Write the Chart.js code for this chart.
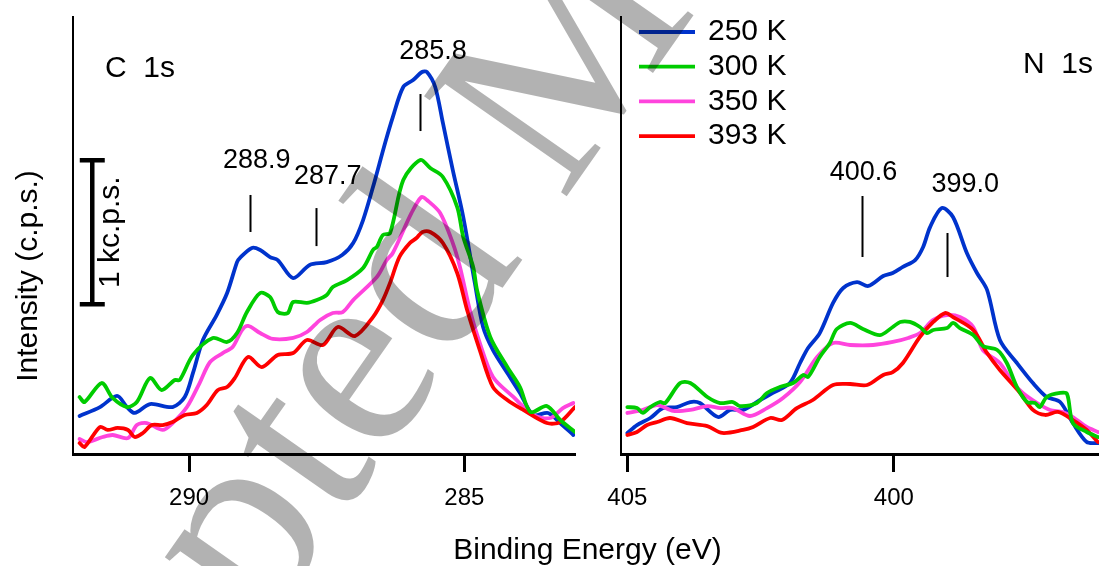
<!DOCTYPE html>
<html><head><meta charset="utf-8">
<script src="https://cdn.jsdelivr.net/npm/chart.js@4.4.1/dist/chart.umd.min.js"></script>
<style>
html,body{margin:0;padding:0;background:#fff;width:1099px;height:566px;overflow:hidden}
#wrap{position:relative;width:1099px;height:566px}
canvas{position:absolute;left:0;top:0}
</style></head><body>
<div id="wrap"><canvas id="c1" width="1099" height="566"></canvas><canvas id="c2" width="1099" height="566"></canvas></div>
<script>
// ---- Series labels ----
const seriesLabels = ['250 K', '300 K', '350 K', '393 K'];

// ---- C 1s (binding energy eV, intensity kc.p.s. above baseline) ----
const cE250 = [291.99,291.62,291.31,291.13,290.99,290.71,290.30,290.08,289.93,289.75,289.50,289.31,289.13,289.08,288.86,288.71,288.53,288.39,288.11,287.81,287.50,287.22,287.02,286.84,286.66,286.44,286.30,286.11,285.93,285.77,285.68,285.53,285.39,285.21,285.02,284.81,284.66,284.48,284.22,283.99,283.75,283.48,283.26,283.02];
const cI250 = [0.264,0.326,0.403,0.326,0.285,0.347,0.326,0.396,0.563,0.792,0.965,1.118,1.333,1.361,1.431,1.417,1.368,1.347,1.222,1.313,1.333,1.382,1.465,1.625,1.854,2.160,2.340,2.549,2.597,2.653,2.653,2.549,2.299,1.972,1.646,1.188,0.882,0.722,0.563,0.424,0.271,0.285,0.215,0.132];
const cE300 = [291.99,291.90,291.59,291.39,291.13,290.95,290.71,290.50,290.26,290.17,289.93,289.57,289.31,289.13,288.95,288.71,288.53,288.39,288.21,288.11,287.86,287.68,287.50,287.39,287.13,286.84,286.66,286.59,286.48,286.35,286.11,285.80,285.62,285.39,285.13,285.02,284.84,284.77,284.53,284.22,283.99,283.80,283.50,283.26,282.99];
const cI300 = [0.396,0.361,0.493,0.389,0.326,0.361,0.528,0.444,0.514,0.514,0.688,0.806,0.778,0.840,0.986,1.118,1.090,0.986,0.979,1.056,1.049,1.069,1.104,1.160,1.208,1.292,1.417,1.438,1.521,1.535,1.903,2.042,1.986,1.924,1.715,1.507,1.299,1.139,0.813,0.604,0.465,0.292,0.333,0.236,0.153];
const cE350 = [291.99,291.86,291.57,291.39,291.11,290.95,290.77,290.48,290.30,290.04,289.81,289.62,289.39,289.21,289.04,288.93,288.71,288.48,288.11,287.86,287.62,287.39,287.21,287.02,286.59,286.41,286.30,285.96,285.78,285.68,285.44,285.21,285.08,284.90,284.72,284.48,284.11,283.75,283.44,283.21,283.02];
const cI350 = [0.104,0.083,0.118,0.132,0.111,0.201,0.215,0.167,0.215,0.326,0.493,0.639,0.701,0.743,0.861,0.889,0.840,0.799,0.806,0.847,0.931,0.979,0.986,1.069,1.229,1.347,1.396,1.674,1.785,1.764,1.674,1.465,1.299,1.000,0.771,0.535,0.396,0.271,0.250,0.319,0.354];
const cE393 = [291.99,291.90,291.62,291.48,291.30,291.11,290.99,290.84,290.68,290.48,290.30,290.08,289.86,289.68,289.48,289.31,289.17,288.93,288.68,288.39,288.11,287.86,287.57,287.30,286.99,286.66,286.48,286.35,286.18,285.99,285.87,285.76,285.62,285.39,285.13,284.95,284.72,284.48,284.22,283.93,283.50,283.26,282.99];
const cI393 = [0.076,0.049,0.188,0.167,0.181,0.167,0.118,0.146,0.201,0.201,0.222,0.271,0.285,0.340,0.444,0.465,0.528,0.674,0.604,0.688,0.701,0.792,0.757,0.882,0.819,0.951,1.069,1.188,1.368,1.465,1.500,1.542,1.542,1.465,1.257,1.000,0.722,0.465,0.375,0.306,0.215,0.222,0.326];

// ---- N 1s ----
const nE250 = [405.00,404.82,404.57,404.33,404.07,403.82,403.64,403.30,403.07,402.83,402.51,402.27,401.95,401.76,401.61,401.39,401.14,400.95,400.69,400.48,400.20,400.02,399.83,399.60,399.45,399.32,399.10,398.89,398.63,398.44,398.25,398.01,397.69,397.39,397.13,396.88,396.64,396.38,396.17];
const nI250 = [0.146,0.201,0.250,0.319,0.326,0.361,0.354,0.257,0.306,0.306,0.375,0.424,0.493,0.632,0.736,0.840,1.049,1.153,1.194,1.167,1.236,1.257,1.299,1.347,1.438,1.576,1.708,1.646,1.396,1.257,1.139,0.792,0.632,0.493,0.396,0.361,0.215,0.083,0.076];
const nE300 = [405.00,404.82,404.71,404.57,404.39,404.29,404.01,403.82,403.50,403.26,403.02,402.89,402.57,402.38,402.14,401.89,401.70,401.61,401.39,401.20,401.07,400.82,400.58,400.26,400.02,399.88,399.70,399.51,399.38,399.26,399.00,398.89,398.76,398.51,398.33,398.06,397.88,397.69,397.50,397.35,397.26,397.13,396.88,396.75,396.64,396.38,396.17];
const nI300 = [0.326,0.319,0.285,0.326,0.361,0.354,0.493,0.493,0.396,0.354,0.361,0.333,0.354,0.424,0.465,0.493,0.549,0.535,0.674,0.771,0.868,0.910,0.868,0.826,0.882,0.917,0.917,0.882,0.840,0.861,0.875,0.910,0.875,0.826,0.750,0.722,0.632,0.465,0.361,0.354,0.326,0.396,0.424,0.417,0.215,0.153,0.118];
const nE350 = [405.00,404.71,404.44,404.14,403.82,403.50,403.26,403.02,402.70,402.38,402.08,401.76,401.44,401.14,400.82,400.39,400.02,399.73,399.51,399.26,399.00,398.76,398.51,398.33,398.01,397.76,397.58,397.31,397.07,396.83,396.64,396.38,396.17];
const nI350 = [0.285,0.306,0.340,0.299,0.306,0.333,0.319,0.319,0.264,0.319,0.389,0.500,0.674,0.771,0.757,0.757,0.778,0.806,0.840,0.931,0.965,0.951,0.882,0.722,0.632,0.493,0.424,0.354,0.306,0.292,0.257,0.188,0.153];
const nE393 = [405.00,404.82,404.63,404.44,404.20,403.88,403.50,403.22,402.83,402.64,402.32,402.10,401.82,401.52,401.14,400.82,400.50,400.20,400.02,399.83,399.51,399.26,399.04,398.89,398.51,398.25,398.01,397.63,397.39,397.16,396.92,396.64,396.38,396.17];
const nI393 = [0.132,0.153,0.201,0.222,0.250,0.215,0.194,0.146,0.167,0.188,0.250,0.236,0.319,0.375,0.479,0.486,0.479,0.549,0.569,0.632,0.813,0.917,0.979,0.951,0.861,0.701,0.583,0.424,0.306,0.271,0.292,0.236,0.167,0.083];

// ---- tick labels ----
const cTicks = [290, 285];
const nTicks = [405, 400];

// ---- peak annotations ----
const cPeakLabels = ['288.9', '287.7', '285.8'];
const nPeakLabels = ['400.6', '399.0'];

// ---------------- drawing config ----------------
const FONT = '"Liberation Sans", Arial, Helvetica, sans-serif';
const colors = ['#0033cc', '#00cc00', '#ff44dd', '#ff0000'];
const drawOrder = [3, 0, 2, 1]; // lower = on top

function mk(E, I, k) {
  return {
    label: seriesLabels[k],
    data: E.map((e, i) => ({ x: e, y: I[i] })),
    borderColor: colors[k], backgroundColor: colors[k],
    borderWidth: 3.8, pointRadius: 0, tension: 0.3, fill: false,
    borderJoinStyle: 'round', borderCapStyle: 'round', order: drawOrder[k]
  };
}

// annotation geometry (data units: eV, kc.p.s.)
const cMarks = [
  { e: 288.9, y0: 1.542, y1: 1.799, le: 288.77, ly: 1.986 },
  { e: 287.7, y0: 1.444, y1: 1.708, le: 287.48, ly: 1.875 },
  { e: 285.8, y0: 2.243, y1: 2.500, le: 285.57, ly: 2.743 }
];
const nMarks = [
  { e: 400.6, y0: 1.368, y1: 1.792, le: 400.57, ly: 1.903 },
  { e: 399.0, y0: 1.229, y1: 1.535, le: 398.66, ly: 1.819 }
];

function drawMarks(chart, marks, labels) {
  const { ctx, scales: { x, y } } = chart;
  ctx.save();
  ctx.strokeStyle = '#000'; ctx.fillStyle = '#000'; ctx.lineWidth = 2;
  ctx.font = '27px ' + FONT; ctx.textAlign = 'center'; ctx.textBaseline = 'alphabetic';
  marks.forEach((m, i) => {
    const px = Math.round(x.getPixelForValue(m.e)) + 0.5;
    ctx.beginPath(); ctx.moveTo(px, y.getPixelForValue(m.y0)); ctx.lineTo(px, y.getPixelForValue(m.y1)); ctx.stroke();
    ctx.fillText(labels[i], x.getPixelForValue(m.le), y.getPixelForValue(m.ly));
  });
  ctx.restore();
}

const leftDecor = {
  id: 'leftDecor',
  afterDraw(chart) {
    const { ctx, chartArea, scales: { x, y } } = chart;
    ctx.save();
    ctx.fillStyle = '#000'; ctx.strokeStyle = '#000';
    ctx.font = '30px ' + FONT; ctx.textBaseline = 'alphabetic';
    // y title
    ctx.save(); ctx.translate(36.5, 276); ctx.rotate(-Math.PI / 2);
    ctx.textAlign = 'center'; ctx.fillText('Intensity (c.p.s.)', 0, 0); ctx.restore();
    // x title
    ctx.textAlign = 'center'; ctx.fillText('Binding Energy (eV)', 587.5, 559);
    // panel label
    ctx.textAlign = 'left'; ctx.fillText('C  1s', chartArea.left + 32, chartArea.top + 60);
    // scale bar 1 kc.p.s.
    const bx = x.getPixelForValue(291.76);
    const yb = y.getPixelForValue(1.04), yt = y.getPixelForValue(2.04);
    ctx.lineWidth = 4.5; ctx.lineCap = 'butt';
    ctx.beginPath(); ctx.moveTo(bx, yb); ctx.lineTo(bx, yt); ctx.stroke();
    ctx.beginPath(); ctx.moveTo(bx - 12.5, yt); ctx.lineTo(bx + 12.5, yt); ctx.stroke();
    ctx.beginPath(); ctx.moveTo(bx - 12.5, yb); ctx.lineTo(bx + 12.5, yb); ctx.stroke();
    ctx.save(); ctx.translate(bx + 26.5, (yb + yt) / 2); ctx.rotate(-Math.PI / 2);
    ctx.textAlign = 'center'; ctx.fillText('1 kc.p.s.', 0, 0); ctx.restore();
    ctx.restore();
    drawMarks(chart, cMarks, cPeakLabels);
  }
};

const rightDecor = {
  id: 'rightDecor',
  afterDraw(chart) {
    const { ctx, chartArea } = chart;
    drawMarks(chart, nMarks, nPeakLabels);
    ctx.save();
    ctx.fillStyle = '#000';
    ctx.font = '30px ' + FONT; ctx.textBaseline = 'alphabetic'; ctx.textAlign = 'left';
    ctx.fillText('N  1s', chartArea.left + 402, chartArea.top + 56);
    // legend
    const lx0 = chartArea.left + 18, lx1 = chartArea.left + 74, tx = chartArea.left + 87;
    seriesLabels.forEach((lab, k) => {
      const ly = chartArea.top + 15 + k * 34.7;
      ctx.strokeStyle = colors[k]; ctx.lineWidth = 3.8;
      ctx.beginPath(); ctx.moveTo(lx0, ly); ctx.lineTo(lx1, ly); ctx.stroke();
      ctx.textBaseline = 'middle'; ctx.fillText(lab, tx, ly);
    });
    ctx.restore();
    // watermark overlay
    ctx.save();
    const fs = 266;
    ctx.font = fs + 'px "Liberation Serif", "Times New Roman", serif';
    const wPre = ctx.measureText('Accept').width, wE = ctx.measureText('e').width;
    ctx.translate(365, 380); ctx.rotate(-55 * Math.PI / 180);
    ctx.fillStyle = 'rgba(0,0,0,0.3)'; ctx.textAlign = 'left'; ctx.textBaseline = 'alphabetic';
    ctx.fillText('Accepted Manuscript', -(wPre + wE / 2), 0.225 * fs);
    ctx.restore();
  }
};

function baseOptions(xmin, xmax, ticks, pad, yWidth) {
  return {
    responsive: false, animation: false, devicePixelRatio: 1, events: [],
    layout: { padding: pad },
    plugins: { legend: { display: false }, tooltip: { enabled: false } },
    scales: {
      x: {
        type: 'linear', reverse: true, min: xmin, max: xmax,
        afterBuildTicks: (s) => { s.ticks = ticks.map(v => ({ value: v })); },
        afterFit: (s) => { s.height = 112; },
        ticks: { color: '#000', font: { family: FONT, size: 24 }, padding: 12, maxRotation: 0, autoSkip: false },
        grid: { display: true, drawOnChartArea: false, drawTicks: true, tickLength: 18, tickWidth: 3, tickColor: '#000', color: '#000' },
        border: { display: true, color: '#000', width: 3 }
      },
      y: {
        min: 0, max: 3.035,
        afterFit: (s) => { s.width = yWidth; },
        ticks: { display: false },
        grid: { display: true, drawOnChartArea: false, drawTicks: false, color: 'rgba(0,0,0,0)' },
        border: { display: true, color: '#000', width: 2 }
      }
    }
  };
}

new Chart(document.getElementById('c1'), {
  type: 'line',
  data: { datasets: [mk(cE250, cI250, 0), mk(cE300, cI300, 1), mk(cE350, cI350, 2), mk(cE393, cI393, 3)] },
  options: baseOptions(282.99, 292.11, cTicks, { left: 0, right: 524, top: 17, bottom: 0 }, 73),
  plugins: [leftDecor]
});

new Chart(document.getElementById('c2'), {
  type: 'line',
  data: { datasets: [mk(nE250, nI250, 0), mk(nE300, nI300, 1), mk(nE350, nI350, 2), mk(nE393, nI393, 3)] },
  options: baseOptions(396.15, 405.12, nTicks, { left: 600, right: 0, top: 17, bottom: 0 }, 21),
  plugins: [rightDecor]
});
</script>
</body></html>
